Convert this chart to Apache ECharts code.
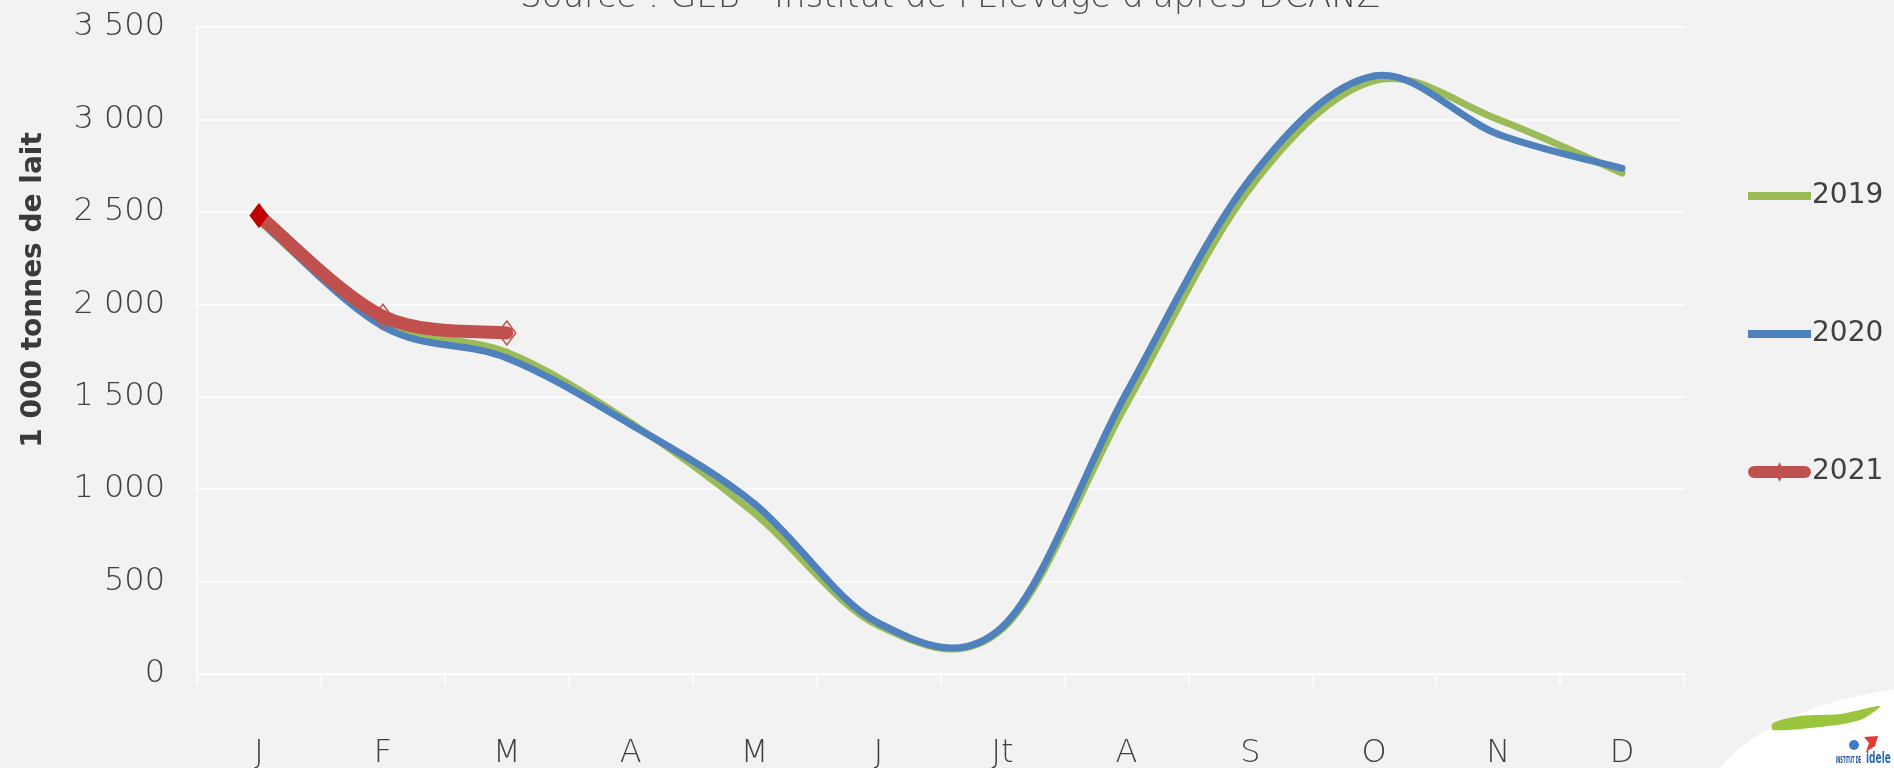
<!DOCTYPE html>
<html lang="fr">
<head>
<meta charset="UTF-8">
<title>Collecte laitière - Nouvelle-Zélande</title>
<style>
    * { margin: 0; padding: 0; }
    body { background: #f2f2f2; }
    #chart { width: 1894px; height: 768px; }
</style>
<script src="https://cdn.jsdelivr.net/npm/echarts@6/dist/echarts.min.js"></script>
</head>
<body>
<div id="chart"></div>
<script>
// mois
var months = ['J', 'F', 'M', 'A', 'M', 'J', 'Jt', 'A', 'S', 'O', 'N', 'D'];
// 1 000 tonnes de lait
var y2019 = [2450, 1900, 1740, 1360, 870, 262, 245, 1460, 2630, 3210, 3000, 2710];
var y2020 = [2460, 1880, 1710, 1350, 920, 275, 255, 1520, 2680, 3235, 2920, 2735];
var y2021 = [2480, 1935, 1845];

var textCol = '#404040';
var font = 'DejaVu Sans';

function fmtNum(v) { // 3500 -> "3 500"
    if (v < 1000) return String(v);
    return Math.floor(v / 1000) + ' ' + String(v % 1000).padStart(3, '0');
}

// courbe lissée façon Excel (bezier, tension 1/6), points placés par api.coord
function smoothLine(name, vals, color, width, z, markers) {
    return {
        name: name,
        type: 'custom',
        z: z,
        data: vals.map(function (v, i) { return [i, v]; }),
        encode: { x: 0, y: 1 },
        renderItem: function (params, api) {
            var i = params.dataIndex, n = vals.length;
            var pt = function (k) {
                k = Math.max(0, Math.min(n - 1, k));
                return api.coord([k, vals[k]]);
            };
            var children = [];
            if (i < n - 1) {
                var p0 = pt(i - 1), p1 = pt(i), p2 = pt(i + 1), p3 = pt(i + 2);
                var t = 1 / 6;
                children.push({
                    type: 'bezierCurve',
                    shape: {
                        x1: p1[0], y1: p1[1], x2: p2[0], y2: p2[1],
                        cpx1: p1[0] + (p2[0] - p0[0]) * t, cpy1: p1[1] + (p2[1] - p0[1]) * t,
                        cpx2: p2[0] - (p3[0] - p1[0]) * t, cpy2: p2[1] - (p3[1] - p1[1]) * t
                    },
                    style: { stroke: color, lineWidth: width, fill: 'none', lineCap: 'round' }
                });
            }
            if (markers) {
                var c = pt(i);
                var w = 9, h = 12;
                children.push({
                    type: 'polygon',
                    shape: { points: [[c[0], c[1] - h], [c[0] + w, c[1]], [c[0], c[1] + h], [c[0] - w, c[1]]] },
                    style: i === 0
                        ? { fill: '#c00000', stroke: '#c00000', lineWidth: 1 }
                        : { fill: 'none', stroke: color, lineWidth: 1.5 }
                });
            }
            return { type: 'group', children: children };
        }
    };
}

var chart = echarts.init(document.getElementById('chart'));

var option = {
    backgroundColor: '#f2f2f2',
    animation: false,
    grid: { left: 197, right: 210, top: 27, bottom: 94, containLabel: false, outerBoundsMode: 'none' },
    legend: {
        orient: 'vertical',
        left: 1743,
        top: 177,
        itemWidth: 63,
        itemHeight: 20,
        itemGap: 110,
        itemStyle: { borderWidth: 0 },
        textStyle: { fontFamily: font, fontSize: 28, color: textCol, padding: [0, 0, 0, -4] },
        data: [
            { name: '2019', icon: 'path://M0,0L0,0M0,6L63,6L63,14L0,14ZM63,20L63,20', itemStyle: { color: '#9bbb59' } },
            { name: '2020', icon: 'path://M0,0L0,0M0,6L63,6L63,14L0,14ZM63,20L63,20', itemStyle: { color: '#4f81bd' } },
            { name: '2021', icon: 'path://M6,4L57,4A6,6 0 0 1 57,16L6,16A6,6 0 0 1 6,4ZM31.5,0L36,10L31.5,20L27,10Z', itemStyle: { color: '#c0504d' } }
        ]
    },
    xAxis: {
        type: 'category',
        data: months,
        boundaryGap: true,
        axisLine: { show: true, lineStyle: { color: '#ffffff', width: 1.5 } },
        axisTick: { show: true, length: 12, lineStyle: { color: '#ffffff', width: 1.5 } },
        axisLabel: { margin: 64, fontFamily: font, fontWeight: 200, fontSize: 32, color: textCol },
        splitLine: { show: false }
    },
    yAxis: {
        type: 'value',
        min: 0,
        max: 3500,
        interval: 500,
        axisLine: { show: true, lineStyle: { color: '#ffffff', width: 1.5 } },
        axisTick: { show: false },
        axisLabel: {
            margin: 32, fontFamily: font, fontWeight: 200, fontSize: 32, color: textCol,
            formatter: fmtNum
        },
        splitLine: { show: true, lineStyle: { color: '#ffffff', width: 1.5 } }
    },
    series: [
        smoothLine('2019', y2019, '#9bbb59', 7, 2, false),
        smoothLine('2020', y2020, '#4f81bd', 7, 3, false),
        smoothLine('2021', y2021, '#c0504d', 13, 4, true)
    ],
    graphic: [
        { // source, coupée en haut
            type: 'text', x: 950, y: 15,
            style: {
                text: "Source : GEB - Institut de l'Élevage d'après DCANZ",
                fontFamily: font, fontWeight: 200, fontSize: 34, fill: '#4a4a4a',
                align: 'center', verticalAlign: 'bottom'
            }
        },
        { // titre de l'axe
            type: 'text', x: 34, y: 290, rotation: Math.PI / 2,
            style: {
                text: '1 000 tonnes de lait',
                fontFamily: font, fontWeight: 'bold', fontSize: 28, fill: '#3a3a3a',
                align: 'center', verticalAlign: 'middle'
            }
        },
        // logo
        { type: 'circle', x: 1960, y: 820, scaleX: 260 / 135, shape: { cx: 0, cy: 0, r: 135 }, style: { fill: '#ffffff' } },
        {
            type: 'polygon',
            shape: { points: [[1773, 723], [1800, 716], [1840, 714], [1880, 706], [1860, 720], [1820, 727], [1773, 730]], smooth: 0.3 },
            style: { fill: '#9bc53d' }
        },
        { type: 'circle', shape: { cx: 1854, cy: 745, r: 5 }, style: { fill: '#3f7cc0' } },
        {
            type: 'polygon',
            shape: { points: [[1864, 737], [1878, 736], [1875, 746], [1866, 752], [1869, 743]] },
            style: { fill: '#e53935' }
        },
        {
            type: 'text', x: 1836, y: 757, scaleX: 0.45,
            style: { text: 'INSTITUT DE', fontFamily: font, fontWeight: 'bold', fontSize: 8, fill: '#1f4e8c' }
        },
        {
            type: 'text', x: 1866, y: 752, scaleX: 0.6,
            style: { text: 'idele', fontFamily: font, fontWeight: 'bold', fontSize: 15, fill: '#2a6bb3' }
        }
    ]
};

chart.setOption(option);
</script>
</body>
</html>
